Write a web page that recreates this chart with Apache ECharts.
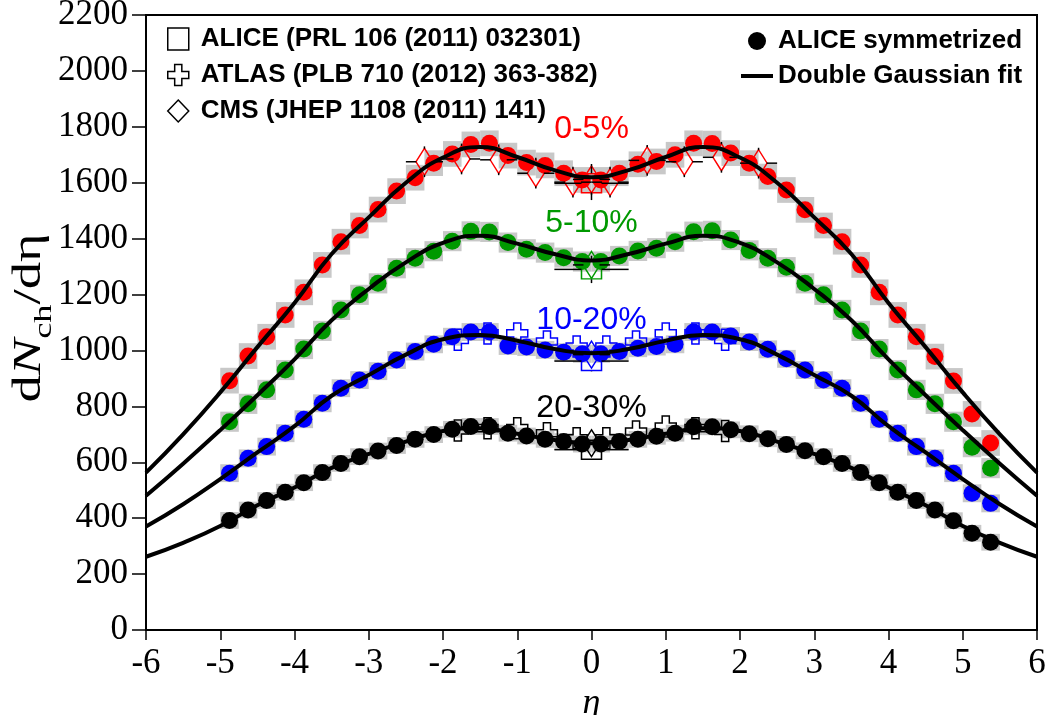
<!DOCTYPE html>
<html><head><meta charset="utf-8">
<script src="https://cdn.jsdelivr.net/npm/echarts@6/dist/echarts.min.js"></script>
<style>html,body{margin:0;padding:0;background:#fff}#c{width:1053px;height:715px}</style>
</head><body><div id="c"></div>
<script>
// ---------------- data ----------------
const centralities = ['0-5%', '5-10%', '10-20%', '20-30%'];
const colors = ['#ff0000', '#009900', '#0000ff', '#000000'];
const labelY = [1790, 1455, 1110, 794];

const etaAlice = [-4.875, -4.625, -4.375, -4.125, -3.875, -3.625, -3.375, -3.125, -2.875, -2.625,
  -2.375, -2.125, -1.875, -1.625, -1.375, -1.125, -0.875, -0.625, -0.375, -0.125,
  0.125, 0.375, 0.625, 0.875, 1.125, 1.375, 1.625, 1.875, 2.125, 2.375,
  2.625, 2.875, 3.125, 3.375, 3.625, 3.875, 4.125, 4.375, 4.625, 4.875, 5.125, 5.375];
const alice0_5 = [892, 980, 1049, 1127, 1208, 1306, 1389, 1447, 1504, 1570,
  1618, 1670, 1703, 1737, 1741, 1697, 1672, 1662, 1634, 1610,
  1610, 1634, 1666, 1676, 1700, 1741, 1740, 1706, 1670, 1622,
  1574, 1503, 1447, 1389, 1306, 1208, 1127, 1049, 978, 891, 773, 669];
const alice5_10 = [745, 809, 859, 930, 1005, 1070, 1145, 1199, 1240, 1294,
  1330, 1355, 1391, 1426, 1424, 1386, 1362, 1350, 1332, 1318,
  1318, 1338, 1356, 1366, 1389, 1425, 1428, 1395, 1358, 1330,
  1298, 1240, 1199, 1145, 1070, 1005, 930, 859, 809, 745, 654, 579];
const alice10_20 = [561, 614, 656, 704, 754, 811, 865, 894, 926, 966,
  996, 1022, 1049, 1066, 1066, 1016, 1012, 1002, 994, 988,
  988, 996, 1008, 1014, 1022, 1066, 1066, 1052, 1030, 1004,
  970, 930, 894, 865, 811, 754, 704, 656, 614, 561, 489, 453];
const alice20_30 = [392, 429, 463, 493, 527, 563, 596, 620, 640, 660,
  682, 699, 718, 728, 728, 704, 694, 682, 674, 665,
  665, 674, 682, 693, 704, 727, 727, 716, 702, 684,
  664, 641, 620, 596, 563, 527, 493, 463, 429, 391, 346, 314];
const aliceSym = [alice0_5, alice5_10, alice10_20, alice20_30];
const sysHalf = [46, 36, 32, 30];

const fitEta = [-6, -5.5, -5, -4.5, -4, -3.5, -3, -2.5, -2, -1.5, -1, -0.5, 0,
  0.5, 1, 1.5, 2, 2.5, 3, 3.5, 4, 4.5, 5, 5.5, 6];
const fit0_5 = [563, 700, 850, 1012, 1170, 1345, 1476, 1600, 1690, 1728, 1692, 1645, 1620,
  1645, 1692, 1728, 1690, 1600, 1476, 1345, 1170, 1012, 850, 700, 563];
const fit5_10 = [480, 595, 715, 840, 968, 1108, 1220, 1315, 1385, 1410, 1382, 1345, 1322,
  1345, 1382, 1410, 1385, 1315, 1220, 1108, 968, 840, 715, 595, 480];
const fit10_20 = [370, 450, 540, 635, 729, 838, 912, 985, 1040, 1055, 1035, 1005, 990,
  1005, 1035, 1055, 1040, 985, 912, 838, 729, 635, 540, 450, 370];
const fit20_30 = [262, 312, 372, 446, 510, 580, 630, 674, 712, 722, 702, 680, 668,
  680, 702, 722, 712, 674, 630, 580, 510, 446, 372, 312, 262];
const fits = [fit0_5, fit5_10, fit10_20, fit20_30];

// ALICE PRL 106 (2011) 032301, |eta|<0.5
const alicePrlEta = 0;
const alicePrlVal = [1598, 1290, 962, 645];
const alicePrlErr = [60, 49, 37, 23];
const alicePrlEtaErr = 0.5;

// CMS JHEP 1108 (2011) 141
const cmsEta0_5 = [-2.25, -1.75, -1.25, -0.75, -0.25, 0, 0.25, 0.75, 1.25, 1.75, 2.25];
const cmsVal0_5 = [1675, 1685, 1682, 1634, 1602, 1612, 1602, 1680, 1675, 1691, 1670];
const cmsEtaCentral = [0];
const cmsValCentral = [null, 1306, 985, 668];
const cmsErr = [55, 45, 35, 25];
const cmsEtaErr = 0.25;

// ATLAS PLB 710 (2012) 363-382
const atlasEta = [-1.8, -1.4, -1.0, -0.6, -0.2, 0.2, 0.6, 1.0, 1.4, 1.8];
const atlas10_20 = [1038, 1061, 1061, 1032, 1014, 1014, 1032, 1061, 1061, 1038];
const atlas20_30 = [714, 722, 722, 704, 686, 686, 710, 728, 722, 712];

const nameAlicePrl = 'ALICE (PRL 106 (2011) 032301)';
const nameAtlas = 'ATLAS (PLB 710 (2012) 363-382)';
const nameCms = 'CMS (JHEP 1108 (2011) 141)';
const nameSym = 'ALICE symmetrized';
const nameFit = 'Double Gaussian fit';

// ---------------- rendering ----------------
const crossPath = 'path://M3.3,0H6.7V3.3H10V6.7H6.7V10H3.3V6.7H0V3.3H3.3Z';
const lineIcon = 'path://M0,0H32V4H0Z';
const binHalf = 0.125;
const serif = 'Liberation Serif';
const sans = 'Liberation Sans';

function renderBox(params, api) {
  const x = api.value(0), y = api.value(1), e = api.value(2);
  const p1 = api.coord([x - binHalf, y + e]);
  const p2 = api.coord([x + binHalf, y - e]);
  return { type: 'rect', shape: { x: p1[0], y: p1[1], width: p2[0] - p1[0], height: p2[1] - p1[1] },
    style: { fill: '#c8c8c8' } };
}
function errBar(gapX, gapY) {
  return function (params, api) {
    const x = api.value(0), y = api.value(1), ex = api.value(2), ey = api.value(3);
    const c = api.coord([x, y]);
    const l = api.coord([x - ex, y]), r = api.coord([x + ex, y]);
    const t = api.coord([x, y + ey]), b = api.coord([x, y - ey]);
    const style = { stroke: '#000', lineWidth: 1.5 };
    const ch = [];
    if (l[0] < c[0] - gapX) ch.push({ type: 'line', shape: { x1: l[0], y1: c[1], x2: c[0] - gapX, y2: c[1] }, style });
    if (r[0] > c[0] + gapX) ch.push({ type: 'line', shape: { x1: c[0] + gapX, y1: c[1], x2: r[0], y2: c[1] }, style });
    if (t[1] < c[1] - gapY) ch.push({ type: 'line', shape: { x1: c[0], y1: t[1], x2: c[0], y2: c[1] - gapY }, style });
    if (b[1] > c[1] + gapY) ch.push({ type: 'line', shape: { x1: c[0], y1: c[1] + gapY, x2: c[0], y2: b[1] }, style });
    return { type: 'group', children: ch };
  };
}
const hollow = (col) => ({ color: 'rgba(0,0,0,0)', borderColor: col, borderWidth: 1.5, opacity: 1 });

const series = [];
centralities.forEach((cname, i) => {
  const vals = aliceSym[i];
  series.push({ type: 'custom', name: 'sys ' + cname, silent: true, z: 1,
    renderItem: renderBox, data: etaAlice.map((e, k) => [e, vals[k], sysHalf[i]]) });
});
series.push({ type: 'scatter', name: nameAtlas, symbol: crossPath, symbolSize: 21, z: 2,
  itemStyle: hollow('#0000ff'), data: atlasEta.map((e, k) => [e, atlas10_20[k]]) });
series.push({ type: 'scatter', name: nameAtlas, symbol: crossPath, symbolSize: 21, z: 2,
  itemStyle: hollow('#000000'), data: atlasEta.map((e, k) => [e, atlas20_30[k]]) });
centralities.forEach((cname, i) => {
  const vals = aliceSym[i];
  series.push({ type: 'scatter', name: nameSym, symbol: 'circle', symbolSize: 17, z: 3,
    itemStyle: { color: colors[i], opacity: 1 }, data: etaAlice.map((e, k) => [e, vals[k]]) });
});
centralities.forEach((cname, i) => {
  series.push({ type: 'scatter', name: nameAlicePrl, symbol: 'rect', symbolSize: [20, 19], z: 4,
    itemStyle: hollow(colors[i]), data: [[alicePrlEta, alicePrlVal[i]]] });
  series.push({ type: 'custom', name: 'err prl ' + cname, silent: true, z: 5, renderItem: errBar(10, 10),
    data: [[alicePrlEta, alicePrlVal[i], alicePrlEtaErr, alicePrlErr[i]]] });
  let ce, cv;
  if (i === 0) { ce = cmsEta0_5; cv = cmsVal0_5; } else { ce = cmsEtaCentral; cv = [cmsValCentral[i]]; }
  series.push({ type: 'scatter', name: nameCms, symbol: 'diamond', symbolSize: [17, 27], z: 4,
    itemStyle: hollow(colors[i]), data: ce.map((e, k) => [e, cv[k]]) });
  series.push({ type: 'custom', name: 'err cms ' + cname, silent: true, z: 5, renderItem: errBar(8, 13),
    data: ce.map((e, k) => [e, cv[k], cmsEtaErr, cmsErr[i]]) });
});
centralities.forEach((cname, i) => {
  series.push({ type: 'line', name: nameFit, smooth: true, symbol: 'none', showSymbol: false, z: 6,
    lineStyle: { color: '#000', width: 4 }, itemStyle: { color: '#000' },
    data: fitEta.map((e, k) => [e, fits[i][k]]) });
});
series.push({ type: 'scatter', name: 'centrality', silent: true, z: 10, symbol: 'circle', symbolSize: 1,
  itemStyle: { color: 'rgba(0,0,0,0)', opacity: 1 },
  label: { show: true, position: 'inside', formatter: '{b}', fontFamily: sans, fontSize: 32, opacity: 1 },
  data: centralities.map((c, i) => ({ name: c, value: [0, labelY[i]], label: { color: colors[i] } })) });

const chart = echarts.init(document.getElementById('c'));
chart.setOption({
  animation: false,
  backgroundColor: '#fff',
  grid: { left: 146, right: 16, top: 15, bottom: 85, show: true, borderColor: '#000', borderWidth: 2,
    outerBoundsMode: 'none', containLabel: false },
  legend: [
    { left: 167, top: 26, orient: 'vertical', itemWidth: 21, itemHeight: 22, itemGap: 10, padding: 0,
      selectedMode: false,
      textStyle: { fontFamily: sans, fontWeight: 'bold', fontSize: 26, lineHeight: 22, color: '#000', padding: [0, 0, 0, 7] },
      data: [
        { name: nameAlicePrl, icon: 'rect', itemStyle: hollow('#000') },
        { name: nameAtlas, icon: crossPath, itemStyle: hollow('#000') },
        { name: nameCms, icon: 'diamond', itemStyle: hollow('#000') }
      ] },
    { left: 741, top: 28, orient: 'vertical', itemWidth: 32, itemHeight: 18, itemGap: 9, padding: 0,
      selectedMode: false,
      textStyle: { fontFamily: sans, fontWeight: 'bold', fontSize: 26, lineHeight: 18, color: '#000' },
      data: [
        { name: nameSym, icon: 'circle', itemStyle: { color: '#000', opacity: 1 } },
        { name: nameFit, icon: lineIcon, itemStyle: { color: '#000', opacity: 1 } }
      ] }
  ],
  graphic: [{
    type: 'text', x: 30, y: 318, rotation: Math.PI / 2, scaleX: 1.4, silent: true,
    style: {
      text: '{r|d}{i|N}{s|ch}{r|/d\u03B7}', align: 'center', verticalAlign: 'middle',
      rich: {
        r: { fontFamily: serif, fontSize: 39, fill: '#000', lineHeight: 54 },
        i: { fontFamily: serif, fontStyle: 'italic', fontSize: 39, fill: '#000', lineHeight: 54 },
        s: { fontFamily: serif, fontSize: 26, fill: '#000', lineHeight: 26, verticalAlign: 'bottom' }
      }
    }
  }],
  xAxis: {
    type: 'value', min: -6, max: 6, interval: 1,
    name: '\u03B7', nameLocation: 'middle', nameGap: 37,
    nameTextStyle: { fontFamily: serif, fontStyle: 'italic', fontSize: 36, color: '#000' },
    axisLine: { onZero: false, lineStyle: { color: '#000', width: 2 } },
    axisTick: { inside: false, length: 10, lineStyle: { color: '#000', width: 1.5 } },
    axisLabel: { fontFamily: serif, fontSize: 35, color: '#000', margin: 16 },
    splitLine: { show: false }
  },
  yAxis: {
    type: 'value', min: 0, max: 2200, interval: 200,
    axisLine: { onZero: false, lineStyle: { color: '#000', width: 2 } },
    axisTick: { inside: false, length: 14, lineStyle: { color: '#000', width: 1.5 } },
    axisLabel: { fontFamily: serif, fontSize: 35, color: '#000', margin: 18, formatter: (v) => String(v) },
    splitLine: { show: false }
  },
  series: series
});
</script>
</body></html>
